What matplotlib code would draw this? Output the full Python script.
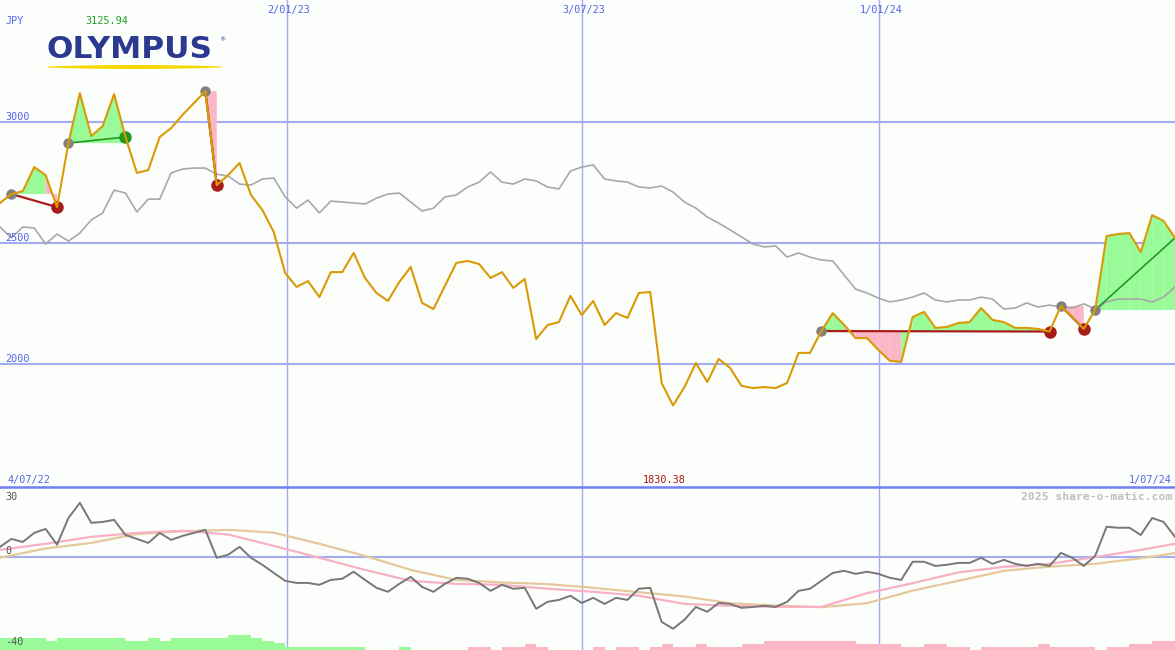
import numpy as np
import matplotlib
matplotlib.use("Agg")
import matplotlib.pyplot as plt

# ---------------- data ----------------
price = [2665, 2702, 2714, 2813, 2780, 2648, 2912, 3118, 2941, 2982,
         3114, 2937, 2789, 2801, 2937, 2974, 3028, 3077, 3126, 2739,
         2780, 2830, 2698, 2636, 2545, 2376, 2319, 2343, 2277, 2380,
         2380, 2459, 2356, 2294, 2261, 2339, 2401, 2253, 2228, 2323,
         2418, 2426, 2413, 2356, 2380, 2315, 2352, 2104, 2162, 2174,
         2282, 2203, 2261, 2162, 2211, 2191, 2294, 2298, 1923, 1830,
         1906, 2005, 1927, 2022, 1985, 1911, 1902, 1906, 1902, 1923,
         2047, 2047, 2137, 2211, 2162, 2108, 2108, 2059, 2014, 2010,
         2195, 2216, 2150, 2154, 2170, 2174, 2232, 2183, 2174, 2150,
         2150, 2146, 2135, 2240, 2195, 2146, 2224, 2529, 2537, 2541,
         2463, 2615, 2591, 2521]

index_line = [2566, 2521, 2566, 2562, 2496, 2537, 2508, 2541, 2595, 2624,
              2718, 2706, 2628, 2681, 2681, 2789, 2805, 2809, 2809, 2784,
              2776, 2743, 2739, 2764, 2768, 2690, 2644, 2677, 2624, 2673,
              2669, 2665, 2661, 2685, 2702, 2706, 2669, 2632, 2644, 2690,
              2698, 2731, 2751, 2793, 2751, 2743, 2764, 2756, 2731, 2723,
              2797, 2813, 2822, 2764, 2756, 2751, 2731, 2727, 2735, 2710,
              2669, 2644, 2607, 2582, 2554, 2525, 2496, 2484, 2488, 2442,
              2459, 2442, 2430, 2426, 2368, 2310, 2294, 2273, 2257, 2265,
              2277, 2294, 2265, 2257, 2265, 2265, 2277, 2269, 2228, 2232,
              2253, 2236, 2244, 2236, 2232, 2249, 2228, 2257, 2269, 2269,
              2269, 2257, 2277, 2319]

# trades: entry index, exit index, exit marker shown
trade_entry = [1, 6, 18, 72, 93, 96]
trade_exit = [5, 11, 19, 92, 95, 103]
trade_closed = [True, True, True, True, True, False]

momentum = [4.3, 7.7, 6.4, 10.3, 12.0, 5.2, 16.7, 23.2, 14.6, 15.0,
            15.9, 9.4, 7.7, 6.0, 10.3, 7.3, 9.0, 10.3, 11.6, -0.4,
            0.9, 4.3, -0.4, -3.4, -6.9, -10.3, -11.2, -11.2, -12.0, -9.9,
            -9.4, -6.4, -9.9, -13.3, -15.0, -11.6, -8.6, -12.9, -15.0, -11.6,
            -9.0, -9.4, -11.2, -14.6, -12.0, -13.7, -13.3, -22.3, -19.3, -18.5,
            -16.7, -19.8, -17.6, -20.2, -17.6, -18.5, -13.7, -13.3, -27.9, -30.9,
            -27.0, -21.5, -23.6, -19.8, -20.2, -21.9, -21.5, -21.0, -21.5, -19.3,
            -14.6, -13.7, -10.3, -6.9, -6.0, -7.3, -6.4, -7.3, -9.0, -9.9,
            -2.1, -2.1, -3.9, -3.4, -2.6, -2.6, -0.4, -3.0, -1.3, -3.0,
            -3.9, -3.0, -3.9, 1.7, -0.4, -3.9, 0.4, 12.9, 12.5, 12.5,
            9.4, 16.7, 15.0, 8.6]

ma_idx = [0, 4, 8, 12, 16, 20, 24, 28, 32, 36, 40, 44, 48, 52, 56, 60, 64,
          68, 72, 76, 80, 84, 88, 92, 96, 100, 103]
ma_short = [3.0, 5.6, 8.6, 10.3, 11.2, 9.6, 4.7, -0.4, -5.6, -10.3,
            -11.6, -12.0, -13.7, -15.0, -16.7, -20.2, -21.0, -21.5, -21.5, -15.6,
            -11.3, -6.7, -4.3, -3.0, -0.1, 3.0, 5.6]
ma_long = [-0.4, 3.6, 6.0, 9.8, 11.0, 11.6, 10.4, 5.6, 0.4, -5.6,
           -9.9, -11.0, -11.7, -13.3, -15.2, -17.0, -19.9, -20.9, -21.6, -19.9,
           -14.5, -10.3, -6.0, -4.2, -3.0, -0.6, 1.6]

volume_bars = ([5.2] * 4 + [4.0] + [5.2] * 6 + [4.0] * 2 + [5.2] + [4.0] + [5.2] * 5
               + [6.4] * 2 + [5.2] + [4.0] + [3.0] + [1.4] * 7 + [0] * 3 + [1.4] + [0] * 5
               + [-1.4] * 2 + [0] + [-1.4] * 2 + [-2.6] + [-1.4] + [0] * 4 + [-1.4] + [0]
               + [-1.4] * 2 + [0] + [-1.4] + [-2.6] + [-1.4] * 2 + [-2.6] + [-1.4] * 3
               + [-2.6] * 2 + [-3.9] * 8 + [-2.6] * 4 + [-1.4] * 2 + [-2.6] * 2 + [-1.4] * 2
               + [0] + [-1.4] * 5 + [-2.6] + [-1.4] * 4 + [0] + [-1.4] * 2 + [-2.6] * 2
               + [-3.9] * 2)

date_pos = [25.13, 51.0, 77.08]
date_labels = ["2/01/23", "3/07/23", "1/01/24"]
start_label, end_label = "4/07/22", "1/07/24"
price_ticks = [3000, 2500, 2000]
osc_ticks = [30, 0, -40]
currency = "JPY"
max_label = "3125.94"
min_label = "1830.38"

# ---------------- styles ----------------
W, H = 1175, 650
BG = "#FCFEFB"
GRID = "#A3ACF2"
SEP = "#7080EE"
LBL = "#5264E8"
ORANGE = "#DA9A06"
GREY = "#A8A8A8"
FILL_G = "#98FB98"
FILL_R = "#FBB6C8"
TRADE_R = "#A81E1E"
TRADE_G = "#229922"
MONO = "DejaVu Sans Mono"

fig = plt.figure(figsize=(W / 100, H / 100), dpi=100)
fig.patch.set_facecolor(BG)

top_h = 487 / H
ax = fig.add_axes([0, 1 - top_h, 1, top_h])
axb = fig.add_axes([0, 0, 1, 1 - top_h])
for a in (ax, axb):
    a.set_facecolor("none")
    for s in a.spines.values():
        s.set_visible(False)
    a.set_xticks([])
    a.set_yticks([])
    a.set_xlim(0, len(price) - 1)

ax.set_ylim(1494, 3502)
axb.set_ylim(-40, 30)

x = np.arange(len(price))
p = np.array(price, dtype=float)

# grid
for v in price_ticks:
    ax.axhline(v, color=GRID, lw=1.5, zorder=0.5)
for d in date_pos:
    ax.axvline(d, color=GRID, lw=1.0, zorder=0.5)
    axb.axvline(d, color=GRID, lw=1.0, zorder=0.5)
axb.axhline(0, color=GRID, lw=1.5, zorder=0.5)
axb.axhline(30, color=SEP, lw=1.8, zorder=5, clip_on=False)

# trade fills (segment by segment, colored by the end value)
for e, xi in zip(trade_entry, trade_exit):
    base = p[e]
    for i in range(e, xi):
        col = FILL_G if p[i + 1] >= base else FILL_R
        ax.fill([x[i], x[i], x[i + 1], x[i + 1]], [base, p[i], p[i + 1], base],
                color=col, lw=0, zorder=1)

ax.plot(x, index_line, color=GREY, lw=1.2, zorder=2)

for e, xi, closed in zip(trade_entry, trade_exit, trade_closed):
    gain = p[xi] >= p[e]
    col = TRADE_G if gain else TRADE_R
    ax.plot([x[e], x[xi]], [p[e], p[xi]], color=col, lw=1.2 if gain else 1.6, zorder=3)
    ax.plot(x[e], p[e], "o", color="#808080", ms=7.5, mew=0, zorder=4)
    if closed:
        ax.plot(x[xi], p[xi], "o", color=col if gain else "#A51C1C", ms=9, mew=0, zorder=4)

ax.plot(x, p, color=ORANGE, lw=1.5, zorder=5)

# lower panel
vb = np.array(volume_bars)
axb.bar(np.arange(len(vb)), np.abs(vb), bottom=-40, width=1.0, align="edge",
        color=[FILL_G if v > 0 else FILL_R for v in vb], lw=0, zorder=1)
axb.plot(ma_idx, ma_long, color="#E6C99A", lw=1.6, zorder=2)
axb.plot(ma_idx, ma_short, color="#F8B0C4", lw=1.6, zorder=3)
axb.plot(x, momentum, color="#777777", lw=1.4, zorder=4)

# ---------------- overlay texts / logo ----------------
ov = fig.add_axes([0, 0, 1, 1])
ov.set_xlim(0, W)
ov.set_ylim(H, 0)
ov.axis("off")
ov.set_facecolor("none")

fs = 7.3
ov.text(5, 24.5, currency, color=LBL, family=MONO, fontsize=fs, va="baseline")
ov.text(85, 24.5, max_label, color="#22A022", family=MONO, fontsize=fs, va="baseline")
for d, lab in zip(date_pos, date_labels):
    px = d / (len(price) - 1) * W
    ov.text(px + 2, 12.5, lab, color=LBL, family=MONO, fontsize=fs, va="baseline", ha="center")
for v in price_ticks:
    py = (3502 - v) / (3502 - 1494) * 487
    ov.text(5, py - 2, str(v), color=LBL, family=MONO, fontsize=fs, va="baseline")
ov.text(8, 483, start_label, color=LBL, family=MONO, fontsize=fs, va="baseline")
ov.text(664, 483, min_label, color="#AA1111", family=MONO, fontsize=fs, va="baseline", ha="center")
ov.text(1172, 483, end_label, color=LBL, family=MONO, fontsize=fs, va="baseline", ha="right")
ov.text(1172, 500.5, "2025 share-o-matic.com", color="#C0C0C0", family=MONO,
        fontsize=8.2, fontweight="bold", va="baseline", ha="right")
for v in osc_ticks:
    yb = {30: 500.5, 0: 554.5, -40: 645}[v]
    ov.text(5, yb, str(v), color="#555555", family=MONO, fontsize=fs, va="baseline")

# logo
ov.text(46, 57.5, "OLYMPUS", color="#2B3990", family="DejaVu Sans", fontweight="bold",
        fontsize=22.5, va="baseline", ha="left")
ov.text(219, 41, "®", color="#2B3990", family="DejaVu Sans", fontsize=4.5, va="baseline")
xs = np.linspace(47, 221, 120)
t = np.linspace(-1, 1, len(xs))
hw = 2.0 * (1 - 0.75 * t ** 2)
ov.fill_between(xs, 66.5 - hw, 66.5 + hw, color="#F5D800", lw=0)

fig.savefig("out.png", dpi=100, facecolor=BG)
